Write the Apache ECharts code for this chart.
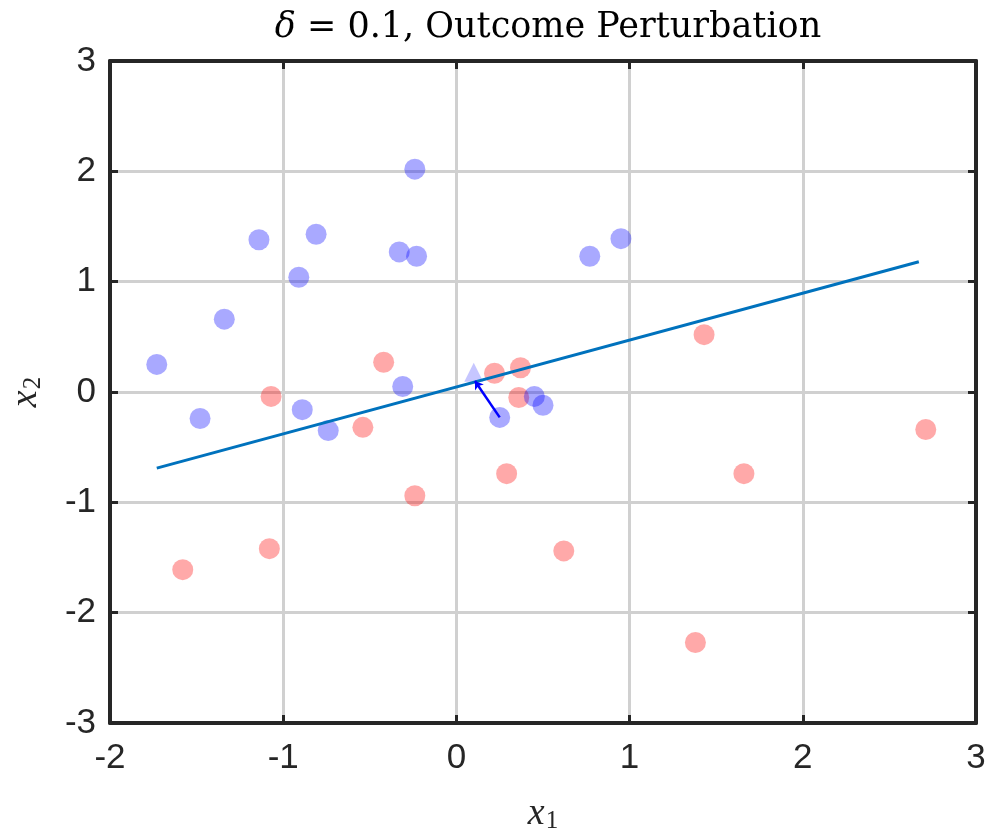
<!DOCTYPE html>
<html>
<head>
<meta charset="utf-8">
<script src="https://cdn.jsdelivr.net/npm/echarts@6/dist/echarts.min.js"></script>
<style>html,body{margin:0;padding:0;background:#fff;}#c{width:997px;height:833px;}</style>
</head>
<body>
<div id="c"></div>
<script>
// Data
const blueX = [-1.73, -1.48, -1.34, -1.14, -0.91, -0.81, -0.89, -0.74, -0.33, -0.23, -0.24, -0.31, 0.25, 0.45, 0.50, 0.77, 0.95];
const blueY = [0.25, -0.24, 0.66, 1.38, 1.04, 1.43, -0.16, -0.35, 1.27, 1.23, 2.02, 0.05, -0.23, -0.04, -0.12, 1.23, 1.39];
const redX = [-1.58, -1.07, -1.08, -0.54, -0.42, -0.24, 0.22, 0.37, 0.36, 0.29, 0.62, 1.43, 1.66, 1.38, 2.71];
const redY = [-1.61, -0.04, -1.42, -0.32, 0.27, -0.94, 0.17, 0.22, -0.05, -0.74, -1.44, 0.52, -0.74, -2.27, -0.34];
const boundaryX = [-1.73, 2.67];
const boundaryY = [-0.69, 1.18];
const perturbedX = [0.10];
const perturbedY = [0.18];
const arrowFrom = [0.25, -0.23];
const arrowTo = [0.107, 0.10];
const xTicks = [-2, -1, 0, 1, 2, 3];
const yTicks = [-3, -2, -1, 0, 1, 2, 3];

const zip = (a, b) => a.map((v, i) => [v, b[i]]);

const axisColor = '#262626';
const labelFont = 'Liberation Sans, Arial, sans-serif';
const serif = 'DejaVu Serif, Liberation Serif, serif';
const mathSerif = 'Liberation Serif, serif';

function mainAxis(ticks, extra) {
  return Object.assign({
    type: 'value', min: ticks[0], max: ticks[ticks.length - 1], interval: 1,
    axisLine: { show: true, onZero: false, lineStyle: { color: axisColor, width: 4 } },
    axisTick: { show: true, inside: true, length: 8, lineStyle: { color: axisColor, width: 3 } },
    axisLabel: { color: axisColor, fontSize: 35, fontFamily: labelFont },
    splitLine: { show: true, lineStyle: { color: '#d0d0d0', width: 3 } }
  }, extra);
}
function frameAxis(ticks, pos) {
  return {
    type: 'value', position: pos, min: ticks[0], max: ticks[ticks.length - 1], interval: 1,
    axisLine: { show: true, onZero: false, lineStyle: { color: axisColor, width: 4 } },
    axisTick: { show: true, inside: true, length: 8, lineStyle: { color: axisColor, width: 3 } },
    axisLabel: { show: false },
    splitLine: { show: false }
  };
}
const nameRich = {
  x: { fontFamily: mathSerif, fontStyle: 'italic', fontSize: 38, color: '#262626' },
  s: { fontFamily: mathSerif, fontSize: 25, color: '#262626', padding: [14, 0, 0, 1] }
};

const chart = echarts.init(document.getElementById('c'), null, { renderer: 'canvas' });
chart.setOption({
  backgroundColor: '#ffffff',
  animation: false,
  title: {
    text: '{d|δ} = 0.1, Outcome Perturbation',
    left: 543, top: 5, textAlign: 'center',
    textStyle: {
      fontFamily: serif, fontSize: 35, fontWeight: 'normal', color: '#000',
      rich: { d: { fontFamily: serif, fontSize: 35, fontStyle: 'italic', color: '#000' } }
    }
  },
  grid: { left: 110, right: 21, top: 61, bottom: 110, containLabel: false, outerBoundsMode: 'none' },
  xAxis: [
    mainAxis(xTicks, {
      position: 'bottom',
      axisLabel: { color: axisColor, fontSize: 35, fontFamily: labelFont, margin: 18 },
      name: '{x|x}{s|1}', nameLocation: 'middle', nameGap: 72,
      nameTextStyle: { rich: nameRich }
    }),
    frameAxis(xTicks, 'top')
  ],
  yAxis: [
    mainAxis(yTicks, {
      position: 'left',
      axisLabel: { color: axisColor, fontSize: 35, fontFamily: labelFont, margin: 14 },
      name: '{x|x}{s|2}', nameLocation: 'middle', nameGap: 64,
      nameTextStyle: { rich: nameRich }
    }),
    frameAxis(yTicks, 'right')
  ],
  series: [
    {
      type: 'scatter', data: zip(redX, redY), symbol: 'circle', symbolSize: 21,
      itemStyle: { color: 'rgba(255,0,0,0.42)' }, z: 2
    },
    {
      type: 'scatter', data: zip(blueX, blueY), symbol: 'circle', symbolSize: 21,
      itemStyle: { color: 'rgba(0,0,255,0.42)' }, z: 2
    },
    {
      type: 'scatter', data: zip(perturbedX, perturbedY), symbol: 'triangle', symbolSize: 19,
      itemStyle: { color: 'rgba(0,0,255,0.28)' }, z: 3
    },
    {
      type: 'line', data: zip(boundaryX, boundaryY), showSymbol: false, symbol: 'none',
      lineStyle: { color: '#0072BD', width: 3 }, z: 4
    },
    {
      type: 'lines', coordinateSystem: 'cartesian2d', z: 5,
      symbol: ['none', 'arrow'], symbolSize: 8,
      lineStyle: { color: '#0000ff', width: 2.5, opacity: 1 },
      data: [{ coords: [arrowFrom, arrowTo] }]
    }
  ]
});
</script>
</body>
</html>
